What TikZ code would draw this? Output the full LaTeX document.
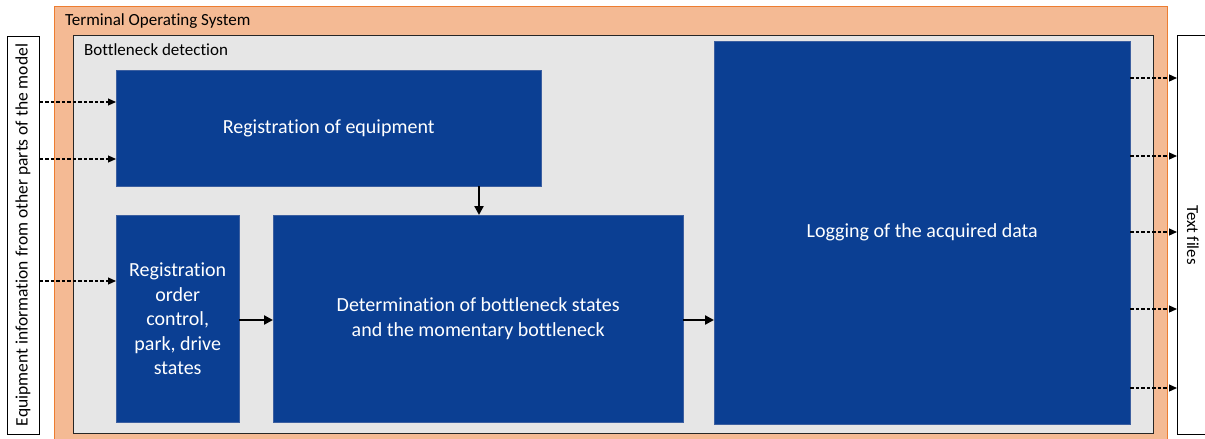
\documentclass[tikz,border=0pt]{standalone}
\usepackage{fontspec}
\setmainfont{Carlito}[Ligatures=NoCommon]
\usetikzlibrary{arrows.meta}
\definecolor{tosfill}{RGB}{244,186,148}
\definecolor{tosline}{RGB}{237,125,49}
\definecolor{bdfill}{RGB}{230,230,230}
\definecolor{blockblue}{RGB}{11,63,147}
\definecolor{blockline}{RGB}{60,95,160}
\tikzset{
  px/.style={x=1pt,y=-1pt},
  area/.style={draw, inner sep=0pt, anchor=north west},
  block/.style={draw=blockline, fill=blockblue, text=white, inner sep=0pt, anchor=north west,
    font=\fontsize{20}{24.5}\selectfont, align=center},
  flow/.style={-{Triangle[length=9pt,width=9pt]}, line width=2.6pt},
  feed/.style={-{Triangle[length=8pt,width=7pt]}, line width=1.2pt, dash pattern=on 3.5pt off 2pt},
  caption/.style={font=\fontsize{17}{20}\selectfont, anchor=west, inner sep=0pt}
}
\begin{document}
\begin{tikzpicture}[px]
\useasboundingbox (0,0) rectangle (1205,439);
\begin{scope}
\clip (0,0) rectangle (1205,439);
% outer system frame
\node[area, draw=tosline, fill=tosfill, line width=0.8pt, minimum width=1113pt, minimum height=440pt] (tos) at (54,6) {};
\node[caption] (toslabel) at (65,21) {Terminal Operating System};
% bottleneck detection frame
\node[area, draw=black!85, fill=bdfill, line width=0.8pt, minimum width=1080pt, minimum height=398pt] (bd) at (73,35) {};
\node[caption] (bdlabel) at (84,50) {Bottleneck detection};
% input and output boxes
\node[area, fill=white, line width=0.8pt, minimum width=32pt, minimum height=398pt] (input) at (7,36) {};
\node[rotate=90, font=\fontsize{17.5}{20}\selectfont, inner sep=0pt] (inputlabel) at (23,235) {Equipment information from other parts of the model};
\node[area, fill=white, line width=0.8pt, minimum width=50pt, minimum height=399pt] (output) at (1177,35) {};
\node[rotate=-90, font=\fontsize{16.8}{20}\selectfont, inner sep=0pt] (outputlabel) at (1193,235) {Text files};
\end{scope}
% processing blocks
\node[block, minimum width=425pt, minimum height=116pt] (equip) at (116,70) {Registration of equipment};
\node[block, minimum width=123pt, minimum height=207pt] (order) at (116,215) {Registration\\order\\control,\\park, drive\\states};
\node[block, minimum width=410pt, minimum height=207pt] (determ) at (273,215) {Determination of bottleneck states\\and the momentary bottleneck};
\node[block, minimum width=416pt, minimum height=383pt] (log) at (714,41) {Logging of the acquired data};
% information flow
\draw[feed] (input.east |- 0,102) -- (equip.west |- 0,102);
\draw[feed] (input.east |- 0,159) -- (equip.west |- 0,159);
\draw[feed] (input.east |- 0,281) -- (order.west |- 0,281);
\draw[flow] (equip.south -| 479,0) -- (determ.north -| 479,0);
\draw[flow] (order.east |- 0,320) -- (determ.west |- 0,320);
\draw[flow] (determ.east |- 0,320) -- (log.west |- 0,320);
\foreach \y in {78,156,232,309,388}
  \draw[feed] (log.east |- 0,\y) -- (output.west |- 0,\y);
\end{tikzpicture}
\end{document}
